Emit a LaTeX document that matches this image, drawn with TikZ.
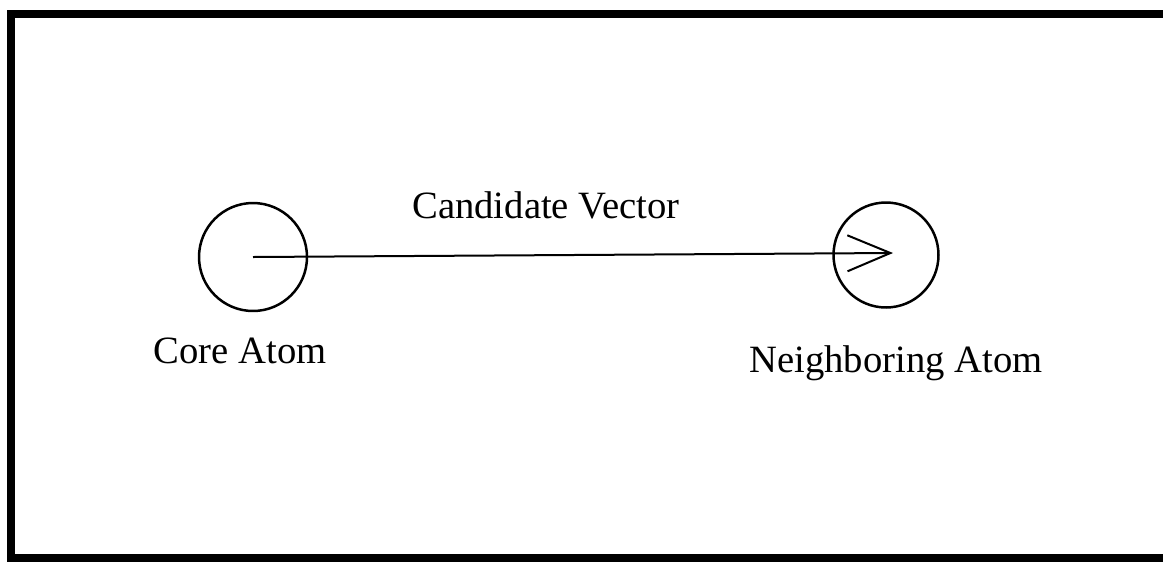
\documentclass[tikz,border=0pt]{standalone}
\usepackage{fontspec}
\setmainfont{Liberation Serif}
\usetikzlibrary{arrows.meta,positioning}

\begin{document}
\begin{tikzpicture}[
    x=0.02cm, y=-0.02cm,
    atom/.style={circle, draw, line width=0.05cm, minimum size=2.16cm, inner sep=0pt},
    tag/.style={font=\fontsize{22}{26}\selectfont, inner sep=0pt, anchor=base},
    vector/.style={-{Straight Barb[length=0.86cm, width=0.72cm]}, line width=0.04cm},
    frame/.style={line width=0.16cm},
]
\useasboundingbox (0,0) rectangle (1163,562);

% Open frame (no right side)
\draw[frame] (1163,14) -- (11,14) -- (11,558) -- (1163,558);

% Atoms
\node[atom] (core) at (253,257) {};
\node[atom, minimum size=2.1cm] (neighbor) at (886,255) {};
\coordinate (tip) at (893,253);

% Vector between the atoms
\draw[vector] (core.center) -- (tip);

% Text
\node[tag] (vec) at (546,218) {Candidate Vector};
\node[tag] (coretext) at (240,363) {Core Atom};
\node[tag] (neightext) at (896,372) {Neighboring Atom};
\end{tikzpicture}
\end{document}
